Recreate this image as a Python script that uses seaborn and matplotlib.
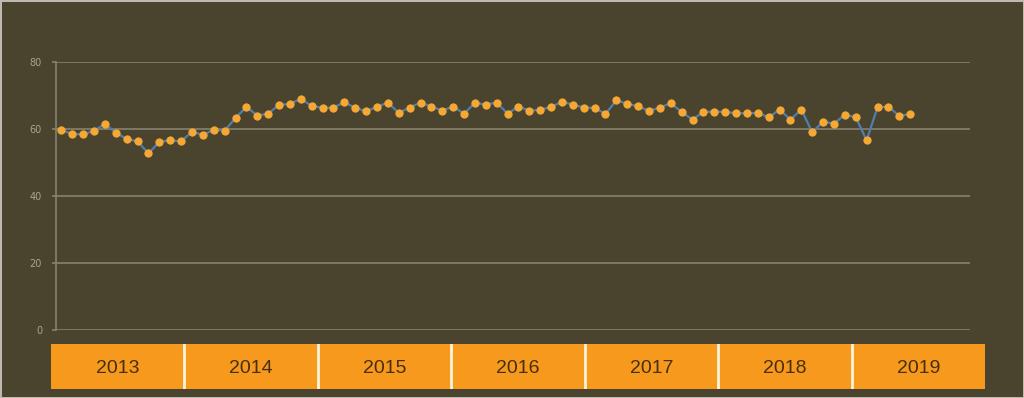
import pandas as pd
import seaborn as sb
import matplotlib.pyplot as plt

# data, monthly, Jan 2013 - Jul 2019
values = [59.7, 58.5, 58.4, 59.5, 61.5, 58.9, 57.0, 56.3, 52.7, 56.2, 56.6, 56.3,
          59.2, 58.2, 59.8, 59.5, 63.3, 66.6, 64.0, 64.6, 67.2, 67.5, 69.0, 66.9,
          66.3, 66.4, 68.0, 66.3, 65.3, 66.6, 67.9, 64.8, 66.4, 67.9, 66.7, 65.5,
          66.7, 64.6, 67.8, 67.3, 67.9, 64.6, 66.7, 65.5, 65.7, 66.6, 68.1, 67.3,
          66.4, 66.3, 64.5, 68.6, 67.5, 66.8, 65.4, 66.4, 67.7, 65.1, 62.8, 65.1,
          65.2, 65.1, 64.7, 64.7, 64.8, 63.5, 65.8, 62.8, 65.8, 59.0, 62.2, 61.6,
          64.3, 63.5, 56.6, 66.5, 66.7, 63.9, 64.5]
years = ['2013', '2014', '2015', '2016', '2017', '2018', '2019']
y_ticks = [0, 20, 40, 60, 80]

bg = '#4a432d'
grid_col = '#878270'
label_col = '#aaa48f'
line_col = '#4f7fae'
dot_col = '#f6a835'
band_col = '#f7991c'

months = pd.period_range('2013-01', periods=len(values), freq='M')
df = pd.DataFrame({'idx': range(len(values)), 'month': months.astype(str), 'value': values})

fig = plt.figure(figsize=(10.24, 3.98), dpi=100, facecolor=bg)
fig.patch.set_edgecolor('#bdbab0')
fig.patch.set_linewidth(2)

# main plot
ax = fig.add_axes([56/1024, 1 - 330/398, (970 - 56)/1024, 268/398])
ax.set_facecolor(bg)
sb.lineplot(data=df, x='idx', y='value', ax=ax, color=line_col, lw=1.6,
            marker='o', markersize=5.2, markerfacecolor=dot_col,
            markeredgecolor=dot_col, zorder=3)
ax.set_xlim(-0.5, len(years) * 12 - 0.5)
ax.set_ylim(0, 80)
ax.set_yticks(y_ticks)
ax.set_xticks([])
ax.set_xlabel('')
ax.set_ylabel('')
for y in y_ticks:
    ax.axhline(y, color=grid_col, lw=1.2, zorder=1)
for s in ['top', 'right', 'bottom']:
    ax.spines[s].set_visible(False)
ax.spines['left'].set_color(grid_col)
ax.spines['left'].set_linewidth(1.2)
ax.tick_params(axis='y', colors=grid_col, labelcolor=label_col, labelsize=7,
               length=3, width=1.2, pad=7)

# year band below
bax = fig.add_axes([51/1024, 1 - 389/398, (985 - 51)/1024, 45/398])
sb.barplot(x=years, y=[1] * len(years), ax=bax, color=band_col, width=1.0,
           saturation=1, edgecolor='none')
bax.set_xlim(-0.5, len(years) - 0.5)
bax.set_ylim(0, 1)
bax.axis('off')
for i in range(1, len(years)):
    bax.axvline(i - 0.5, color='#fdf3dc', lw=2)
for i, yr in enumerate(years):
    bax.text(i, 0.46, yr, ha='center', va='center', fontsize=14,
             color='#45300f', family=['Liberation Sans Narrow', 'Liberation Sans'])

fig.savefig('out.png', dpi=100, facecolor=bg)
